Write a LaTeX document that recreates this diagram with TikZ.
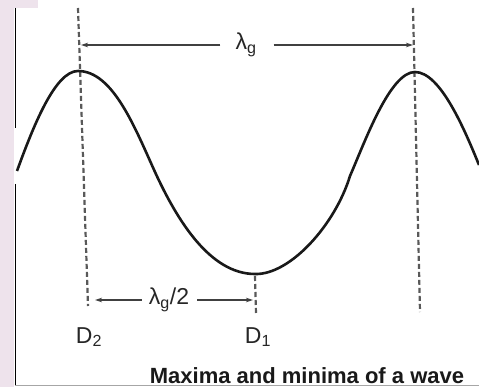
\documentclass[tikz,border=0pt]{standalone}
\usepackage{fontspec}
\setmainfont{Liberation Sans}
\usetikzlibrary{arrows.meta}
\definecolor{scanpink}{HTML}{EEE3EC}
\tikzset{
  wave/.style={line width=2.6pt, black!90},
  guide/.style={line width=2.2pt, black!65, dash pattern=on 5pt off 3pt},
  dimline/.style={line width=1.3pt, black!75},
  tip/.style={-{Stealth[length=7pt,width=4.5pt]}},
  lbl/.style={font=\fontsize{23pt}{25pt}\selectfont, inner sep=1pt, text=black!85},
  captext/.style={font=\fontsize{22pt}{24pt}\selectfont\bfseries, inner sep=0pt, text=black!90}
}
\begin{document}
\begin{tikzpicture}[x=1pt,y=-1pt]
\useasboundingbox (0,0) rectangle (479,387);
\fill[white] (0,0) rectangle (479,387);
% scan border artefacts
\fill[scanpink] (0,0) rectangle (14,387);
\fill[scanpink] (0,0) rectangle (38,8);
\draw[line width=1pt, black] (15,8) -- (15,128);
\draw[line width=1pt, black] (15,184) -- (15,386);
\draw[line width=0.8pt, black!35] (15,385.5) -- (479,385.5);
% guide coordinates
\coordinate (Ltop) at (78,8);
\coordinate (Lbot) at (88,306);
\coordinate (Rtop) at (413,8);
\coordinate (Rbot) at (420,312);
\coordinate (Ctop) at (255,276);
\coordinate (Cbot) at (256,314);
\draw[guide] (Ltop) -- (Lbot);
\draw[guide] (Rtop) -- (Rbot);
\draw[guide] (Ctop) -- (Cbot);
% wave
\coordinate (w0) at (17,171);
\coordinate (pk1) at (78,71);
\coordinate (inf1) at (155,172);
\coordinate (tr) at (255,274);
\coordinate (inf2) at (350,176);
\coordinate (pk2) at (415,72);
\coordinate (w1) at (479,165);
\draw[wave] (w0) .. controls (33,127) and (55,71) .. (pk1)
  .. controls (113,71) and (135,128) .. (inf1)
  .. controls (177,220) and (210,274) .. (tr)
  .. controls (290,275) and (335,225) .. (inf2)
  .. controls (365,141.5) and (390,72) .. (pk2)
  .. controls (440,72) and (464,128) .. (w1);
% lambda_g dimension
\node[lbl] (lg) at (246,45) {λ\textsubscript{g}};
\coordinate (lgL) at (81,45);
\coordinate (lgR) at (413,45);
\draw[dimline,tip] (lg.west) ++(-14pt,0) -- (lgL);
\draw[dimline,tip] (lg.east) ++(16pt,0) -- (lgR);
% lambda_g/2 dimension
\node[lbl] (lh) at (169,300) {λ\textsubscript{g}/2};
\coordinate (lhL) at (95,300);
\coordinate (lhR) at (253,300);
\draw[dimline,tip] (lh.west) ++(-6pt,0) -- (lhL);
\draw[dimline,tip] (lh.east) ++(7pt,0) -- (lhR);
% labels
\node[lbl] (d2) at (89,337) {D\textsubscript{2}};
\node[lbl] (d1) at (258,337) {D\textsubscript{1}};
\node[captext] (caption) at (307,376) {Maxima and minima of a wave};
\end{tikzpicture}
\end{document}
